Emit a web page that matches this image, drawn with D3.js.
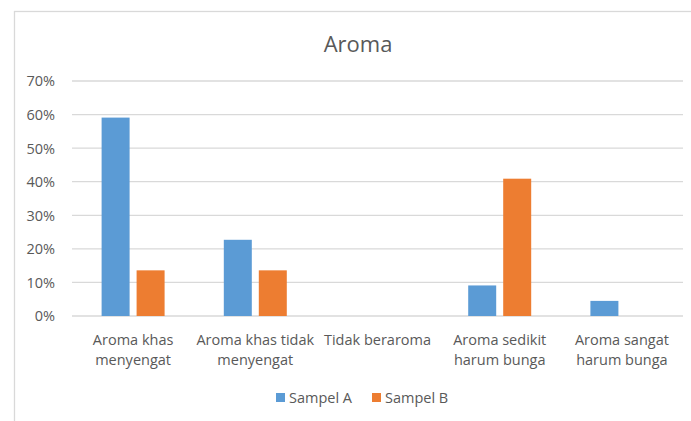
<!DOCTYPE html>
<html>
<head>
<meta charset="utf-8">
<script src="https://cdn.jsdelivr.net/npm/d3@7"></script>
<style>
  body { margin: 0; background: #fff; }
  text { font-family: "Open Sans", sans-serif; fill: #595959; }
</style>
</head>
<body>
<svg id="chart" width="691" height="421"></svg>
<script>
const categories = ["Aroma khas menyengat", "Aroma khas tidak menyengat", "Tidak beraroma", "Aroma sedikit harum bunga", "Aroma sangat harum bunga"];
const seriesNames = ["Sampel A", "Sampel B"];
const sampelA = [0.591, 0.227, 0, 0.091, 0.045];
const sampelB = [0.136, 0.136, 0, 0.409, 0];
const yTicks = [0, 0.1, 0.2, 0.3, 0.4, 0.5, 0.6, 0.7];
const colors = ["#5B9BD5", "#ED7D31"];

const svg = d3.select("#chart");
const margin = {left: 72, right: 8, top: 81, bottom: 105};

// chart frame (cropped at right and bottom like the picture)
svg.append("rect")
  .attr("x", 14.5).attr("y", 11.5)
  .attr("width", 700).attr("height", 430)
  .attr("fill", "#fff").attr("stroke", "#d9d9d9").attr("stroke-width", 1.3);

const x = d3.scaleBand().domain(categories).range([margin.left, 683]);
const y = d3.scaleLinear().domain([0, 0.7]).range([316, 81]);
const xs = d3.scaleBand().domain(seriesNames).range([0, x.bandwidth()]).paddingInner(0.2).paddingOuter(0.846);

// gridlines
svg.append("g").selectAll("line").data(yTicks).join("line")
  .attr("x1", margin.left).attr("x2", 683)
  .attr("y1", d => y(d)).attr("y2", d => y(d))
  .attr("stroke", "#d9d9d9").attr("stroke-width", 1.3);

// y labels
svg.append("g").selectAll("text").data(yTicks).join("text")
  .attr("x", 55).attr("y", d => y(d)).attr("dy", "0.37em")
  .attr("text-anchor", "end").style("font-size", "14.5px")
  .text(d => d3.format(".0%")(d));

// bars
const rows = categories.map((c, i) => ({c, vals: [sampelA[i], sampelB[i]]}));
const groups = svg.append("g").selectAll("g").data(rows).join("g")
  .attr("transform", d => `translate(${x(d.c)},0)`);
groups.selectAll("rect").data(d => d.vals.map((v, j) => ({s: seriesNames[j], v, j})).filter(d => d.v > 0))
  .join("rect")
  .attr("x", d => xs(d.s)).attr("width", xs.bandwidth())
  .attr("y", d => y(d.v)).attr("height", d => y(0) - y(d.v))
  .attr("fill", d => colors[d.j]);

// x axis labels with wrapping
const lbl = svg.append("g").selectAll("text").data(categories).join("text")
  .attr("x", d => x(d) + x.bandwidth() / 2).attr("y", 345)
  .attr("text-anchor", "middle").style("font-size", "14.5px");
lbl.each(function(d) {
  const t = d3.select(this);
  const words = d.split(" ");
  let line = [];
  let ts = t.append("tspan").attr("x", x(d) + x.bandwidth() / 2).attr("dy", 0);
  words.forEach(w => {
    line.push(w);
    ts.text(line.join(" "));
    if (ts.node().getComputedTextLength() > x.bandwidth() - 2 && line.length > 1) {
      line.pop();
      ts.text(line.join(" "));
      line = [w];
      ts = t.append("tspan").attr("x", x(d) + x.bandwidth() / 2).attr("dy", 20).text(w);
    }
  });
});

// title
svg.append("text").attr("x", 358).attr("y", 52)
  .attr("text-anchor", "middle").style("font-size", "22px")
  .text("Aroma");

// legend
const legendPos = [276, 372];
const leg = svg.append("g").selectAll("g").data(seriesNames).join("g")
  .attr("transform", (d, i) => `translate(${legendPos[i]},393)`);
leg.append("rect").attr("width", 9).attr("height", 9).attr("fill", (d, i) => colors[i]);
leg.append("text").attr("x", 13).attr("y", 4.5).attr("dy", "0.37em")
  .style("font-size", "14.5px").text(d => d);
</script>
</body>
</html>
